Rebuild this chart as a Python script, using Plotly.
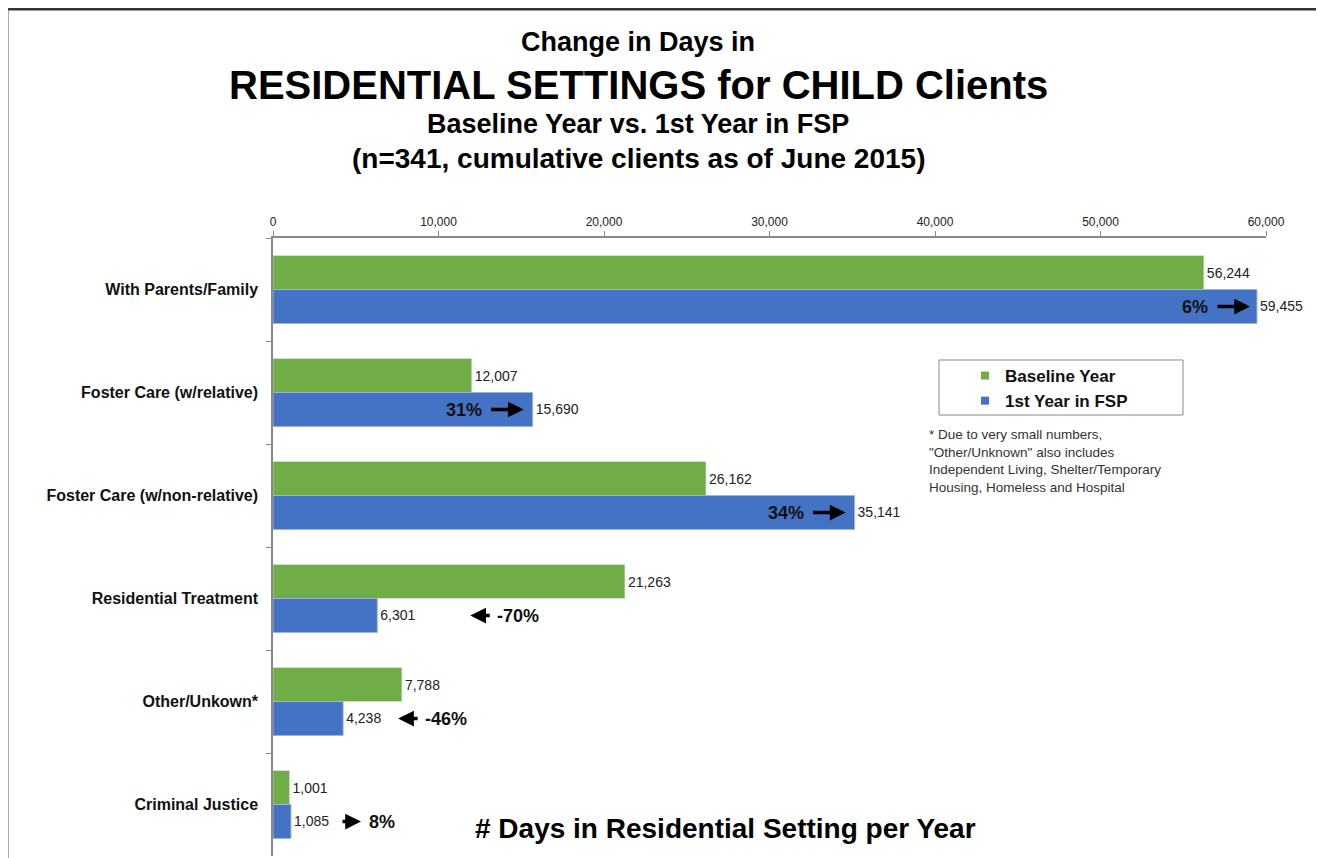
import plotly.graph_objects as go

categories = ["With Parents/Family", "Foster Care (w/relative)", "Foster Care (w/non-relative)",
              "Residential Treatment", "Other/Unkown*", "Criminal Justice"]
baseline = [56244, 12007, 26162, 21263, 7788, 1001]
fsp_year = [59455, 15690, 35141, 6301, 4238, 1085]
pct_labels = ["6%", "31%", "34%", "-70%", "-46%", "8%"]
x_ticks = [0, 10000, 20000, 30000, 40000, 50000, 60000]

GREEN = "#70AD47"
BLUE = "#4472C4"
NARROW = "Liberation Sans Narrow, Arial Narrow, Liberation Sans, Arial"
ARIAL = "Liberation Sans, Arial"

# page has an 8px body margin, so the figure is a bit smaller than the window
PAGE_OFF = 8
W, H = 1316, 850
ML, MR, MT, MB = 265, 58, 230, 2
PH = H - MT - MB
PW = W - ML - MR


def px_x(px):
    return (px - PAGE_OFF - ML) / PW


def px_y(py):
    return 1 - (py - PAGE_OFF - MT) / PH


bargap = 0.34
off = (1 - bargap) / 4  # centre offset of each bar in its band

fig = go.Figure()
fig.add_trace(go.Bar(
    y=categories, x=baseline, name="Baseline Year", orientation="h", showlegend=False,
    marker=dict(color=GREEN), texttemplate="%{x:,}", textposition="outside",
    textfont=dict(size=14, color="#222", family=ARIAL), cliponaxis=False, constraintext="none"))
fig.add_trace(go.Bar(
    y=categories, x=fsp_year, name="1st Year in FSP", orientation="h", showlegend=False,
    marker=dict(color=BLUE, line=dict(color="#9DB3E0", width=1)), texttemplate="%{x:,}",
    textposition="outside",
    textfont=dict(size=14, color="#222", family=ARIAL), cliponaxis=False, constraintext="none"))

# legend entries with small square markers, like the original
for nm, col in [("Baseline Year", GREEN), ("1st Year in FSP", BLUE)]:
    fig.add_trace(go.Scatter(x=[None], y=[None], mode="markers", name="<b>%s</b>" % nm,
                             marker=dict(symbol="square", size=8, color=col)))

annos = []
arrow_style = dict(showarrow=True, arrowhead=2, arrowsize=0.9, arrowwidth=3.5, arrowcolor="black", ay=0)
pct_font = dict(size=18, color="#111", family=ARIAL)
# percent change labels with arrows
for i, (b, f, lab) in enumerate(zip(baseline, fsp_year, pct_labels)):
    yv = i + off
    up = f >= b
    if up and f > 10000:
        # inside the blue bar, arrow pointing to its end
        head_shift = -7 if i == 0 else -9
        annos.append(dict(x=f, y=yv, xref="x", yref="y", text="", ax=-34, xshift=head_shift, **arrow_style))
        annos.append(dict(x=f, y=yv, xref="x", yref="y", text="<b>%s</b>" % lab, showarrow=False,
                          xanchor="right", xshift=head_shift - 40, font=pct_font))
    elif up:
        annos.append(dict(x=f, y=yv, xref="x", yref="y", text="", ax=-20, xshift=70, **arrow_style))
        annos.append(dict(x=f, y=yv, xref="x", yref="y", text="<b>%s</b>" % lab, showarrow=False,
                          xanchor="left", xshift=76, font=pct_font))
    else:
        gap = 93 if i == 3 else 55
        annos.append(dict(x=f, y=yv, xref="x", yref="y", text="", ax=21, xshift=gap, **arrow_style))
        annos.append(dict(x=f, y=yv, xref="x", yref="y", text="<b>%s</b>" % lab, showarrow=False,
                          xanchor="left", xshift=gap + 25, font=pct_font))

# titles
titles = [("Change in Days in", 27, 42), ("RESIDENTIAL SETTINGS for CHILD Clients", 40, 85),
          ("Baseline Year vs. 1st Year in FSP", 27, 124),
          ("(n=341, cumulative clients as of June 2015)", 28, 158)]
for txt, sz, py in titles:
    annos.append(dict(x=px_x(638), y=px_y(py), xref="paper", yref="paper", text="<b>%s</b>" % txt,
                      showarrow=False, xanchor="center", yanchor="middle",
                      font=dict(size=sz, color="black", family=NARROW)))

annos.append(dict(x=px_x(725), y=px_y(828), xref="paper", yref="paper",
                  text="<b># Days in Residential Setting per Year</b>", showarrow=False,
                  xanchor="center", yanchor="middle", font=dict(size=28, color="black", family=NARROW)))

annos.append(dict(x=px_x(927), y=px_y(425), xref="paper", yref="paper", xanchor="left", yanchor="top",
                  align="left", showarrow=False,
                  text="* Due to very small numbers,<br>\"Other/Unknown\" also includes<br>"
                       "Independent Living, Shelter/Temporary<br>Housing, Homeless and Hospital",
                  font=dict(size=13.5, color="#333", family=ARIAL)))

shapes = [
    dict(type="rect", xref="paper", yref="paper", x0=px_x(939), x1=px_x(1183), y0=px_y(415), y1=px_y(360),
         line=dict(color="#888", width=1)),
    dict(type="line", xref="paper", yref="paper", x0=px_x(PAGE_OFF), x1=px_x(PAGE_OFF + W),
         y0=px_y(PAGE_OFF + 1), y1=px_y(PAGE_OFF + 1), line=dict(color="#333", width=3)),
    dict(type="line", xref="paper", yref="paper", x0=px_x(PAGE_OFF), x1=px_x(PAGE_OFF),
         y0=px_y(PAGE_OFF), y1=px_y(PAGE_OFF + H), line=dict(color="#555", width=1)),
]

fig.update_layout(
    width=W, height=H, margin=dict(l=ML, r=MR, t=MT, b=MB),
    paper_bgcolor="white", plot_bgcolor="white",
    barmode="group", bargap=bargap, bargroupgap=0,
    font=dict(family=ARIAL, color="#222"),
    showlegend=True,
    legend=dict(x=px_x(965), y=px_y(358), xanchor="left", yanchor="top", bgcolor="rgba(0,0,0,0)",
                borderwidth=0, font=dict(size=17, color="#111", family=ARIAL), itemwidth=30),
    annotations=annos, shapes=shapes,
)
fig.update_xaxes(side="top", range=[0, 60000], tickvals=x_ticks, tickformat=",",
                 showgrid=False, zeroline=False, showline=True, linecolor="#888", linewidth=1.5,
                 ticks="outside", ticklen=5, tickcolor="#888",
                 tickfont=dict(size=12, color="#222", family=ARIAL))
fig.update_yaxes(autorange="reversed", showgrid=False, showline=True, linecolor="#888", linewidth=1.5,
                 ticks="outside", ticklen=5, tickcolor="#888", tickson="boundaries",
                 ticklabelstandoff=10, tickprefix="<b>", ticksuffix="</b>",
                 tickfont=dict(size=16, color="#111", family=ARIAL))

fig.write_html("out.html")
